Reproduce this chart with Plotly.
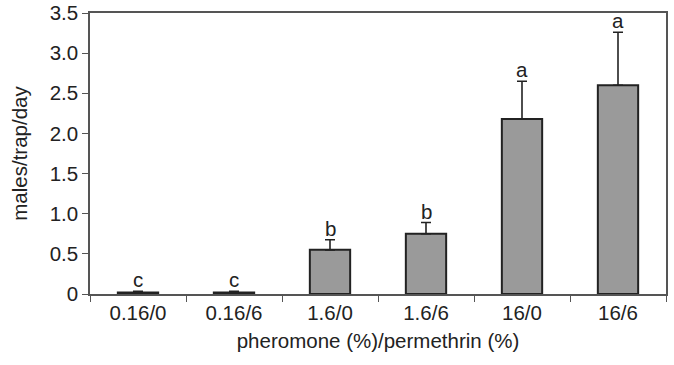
import plotly.graph_objects as go

categories = ["0.16/0", "0.16/6", "1.6/0", "1.6/6", "16/0", "16/6"]
means = [0.02, 0.02, 0.55, 0.75, 2.18, 2.60]
errors = [0.015, 0.015, 0.125, 0.14, 0.47, 0.66]
letters = ["c", "c", "b", "b", "a", "a"]
ytick_vals = [0, 0.5, 1.0, 1.5, 2.0, 2.5, 3.0, 3.5]
ytick_text = ["0", "0.5", "1.0", "1.5", "2.0", "2.5", "3.0", "3.5"]

FONT = "Liberation Sans, Arial, sans-serif"
AX = "#555555"
FS = 20.5

fig = go.Figure()
fig.add_trace(go.Bar(
    x=categories, y=means, width=0.42,
    marker=dict(color="#9a9a9a", line=dict(color="#222222", width=2)),
    error_y=dict(type="data", array=errors, symmetric=False, arrayminus=[0]*6,
                 color="#222222", thickness=1.6, width=5),
    showlegend=False, hoverinfo="skip",
))
for c, m, e, l in zip(categories, means, errors, letters):
    fig.add_annotation(x=c, y=m + e, text=l, showarrow=False, yanchor="bottom",
                       yshift=-2, font=dict(family=FONT, size=FS, color="#222222"))

fig.update_layout(
    width=674, height=365,
    margin=dict(l=90, r=8, t=13, b=71, autoexpand=False),
    plot_bgcolor="white", paper_bgcolor="white",
    font=dict(family=FONT, size=FS, color="#222222"),
)
fig.update_xaxes(
    type="category", showline=True, linecolor=AX, linewidth=1.5, mirror=True,
    ticks="outside", tickson="boundaries", ticklen=6, tickcolor=AX,
    showgrid=False, automargin=False,
    title=dict(text="pheromone (%)/permethrin (%)", standoff=10,
               font=dict(size=FS)),
    tickfont=dict(size=FS),
)
fig.update_yaxes(
    range=[0, 3.5], tickvals=ytick_vals, ticktext=ytick_text,
    showline=True, linecolor=AX, linewidth=1.5, mirror=True,
    ticks="outside", ticklen=6, tickcolor=AX, showgrid=False, zeroline=False,
    automargin=False,
    title=dict(text="males/trap/day", standoff=16, font=dict(size=FS)),
    tickfont=dict(size=FS),
)

fig.write_html("out.html", config={"displayModeBar": False},
               post_script="document.body.style.margin='0px';")
